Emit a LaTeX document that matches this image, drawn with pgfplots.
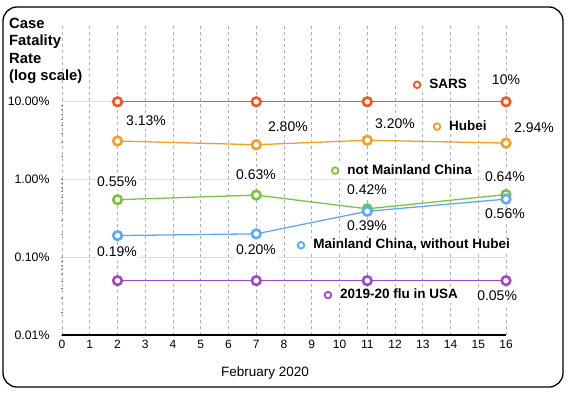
\documentclass[border=0pt]{standalone}
\usepackage{pgfplots}
\pgfplotsset{compat=1.18}
\usepackage{fontspec}
\setmainfont{Liberation Sans}
\definecolor{csars}{RGB}{246,84,36}
\definecolor{chubei}{RGB}{243,158,38}
\definecolor{cnot}{RGB}{122,196,64}
\definecolor{cmain}{RGB}{92,170,246}
\definecolor{cflu}{RGB}{160,72,200}
\definecolor{gridc}{RGB}{175,175,175}
\tikzset{
  lbl/.style={fill=white, inner sep=1pt, text height=10pt, text depth=3pt, font=\fontsize{14}{16}\selectfont},
  leg/.style={fill=white, inner sep=1pt, anchor=west, text height=10pt, text depth=3pt, font=\bfseries\fontsize{13.5}{16}\selectfont},
}
\begin{document}
\begin{tikzpicture}
\useasboundingbox (0pt,0pt) rectangle (569pt,392pt);
\draw[line width=1.3pt, rounded corners=14pt] (3pt,5pt) rectangle (563pt,385pt);
\node[anchor=north west, align=left, inner sep=0pt, font=\bfseries\fontsize{14.8}{17.4}\selectfont] at (9pt,374pt) {Case\\Fatality\\Rate\\(log scale)};
\node[font=\fontsize{13.5}{16}\selectfont] at (265pt,19pt) {February 2020};
\begin{axis}[
  at={(62pt,57pt)}, anchor=south west, scale only axis,
  width=444pt, height=311pt,
  ymode=log, xmin=0, xmax=16, ymin=0.01, ymax=100,
  clip=false,
  axis x line=bottom, axis y line=left,
  y axis line style={draw=none},
  x axis line style={-, line width=1.5pt, black},
  major tick length=0pt,
  xtick={0,1,...,16},
  ytick={0.01,0.1,1,10},
  yticklabels={0.01\%,0.10\%,1.00\%,10.00\%},
  xmajorgrids, ymajorgrids,
  x grid style={gridc, dashed, line width=0.6pt},
  y grid style={gray!25, line width=0.8pt},
  /pgf/number format/assume math mode=true,
  yticklabel style={font=\fontsize{12.3}{14}\selectfont, xshift=-9pt},
  xticklabel style={font=\fontsize{12}{14}\selectfont, yshift=-2pt},
  every axis plot/.append style={line width=1.3pt, mark=*, mark size=4.3pt,
     mark options={fill=white, line width=2.6pt, solid}},
]
\addplot[csars] coordinates {(2,10) (7,10) (11,10) (16,10)};
\addplot[chubei] coordinates {(2,3.13) (7,2.80) (11,3.20) (16,2.94)};
\addplot[cnot] coordinates {(2,0.55) (7,0.63) (11,0.42) (16,0.64)};
\addplot[cmain] coordinates {(2,0.19) (7,0.20) (11,0.39) (16,0.56)};
\addplot[cflu] coordinates {(2,0.05) (7,0.05) (11,0.05) (16,0.05)};

\node[lbl] at (axis cs:16,18.6) {10\%};
\node[lbl] at (axis cs:3.03,5.55) {3.13\%};
\node[lbl] at (axis cs:8.14,4.64) {2.80\%};
\node[lbl] at (axis cs:12.0,5.07) {3.20\%};
\node[lbl] at (axis cs:17.01,4.51) {2.94\%};
\node[lbl] at (axis cs:1.98,0.915) {0.55\%};
\node[lbl] at (axis cs:6.99,1.125) {0.63\%};
\node[lbl] at (axis cs:10.99,0.72) {0.42\%};
\node[lbl] at (axis cs:15.96,1.06) {0.64\%};
\node[lbl] at (axis cs:1.98,0.1125) {0.19\%};
\node[lbl] at (axis cs:6.99,0.119) {0.20\%};
\node[lbl] at (axis cs:10.99,0.243) {0.39\%};
\node[lbl] at (axis cs:15.96,0.345) {0.56\%};
\node[lbl] at (axis cs:15.68,0.0307) {0.05\%};

\node[leg] at (axis cs:12.60,16.5) {\tikz[baseline=-0.5ex]\draw[csars,line width=1.8pt,fill=white] (0pt,0pt) circle (3.3pt);\hspace{8pt}SARS};
\node[leg] at (axis cs:13.32,4.78) {\tikz[baseline=-0.5ex]\draw[chubei,line width=1.8pt,fill=white] (0pt,0pt) circle (3.3pt);\hspace{8pt}Hubei};
\node[leg] at (axis cs:9.65,1.30) {\tikz[baseline=-0.5ex]\draw[cnot,line width=1.8pt,fill=white] (0pt,0pt) circle (3.3pt);\hspace{8pt}not Mainland China};
\node[leg] at (axis cs:8.42,0.1425) {\tikz[baseline=-0.5ex]\draw[cmain,line width=1.8pt,fill=white] (0pt,0pt) circle (3.3pt);\hspace{8pt}Mainland China, without Hubei};
\node[leg] at (axis cs:9.39,0.0326) {\tikz[baseline=-0.5ex]\draw[cflu,line width=1.8pt,fill=white] (0pt,0pt) circle (3.3pt);\hspace{8pt}2019-20 flu in USA};
\end{axis}
\end{tikzpicture}
\end{document}
